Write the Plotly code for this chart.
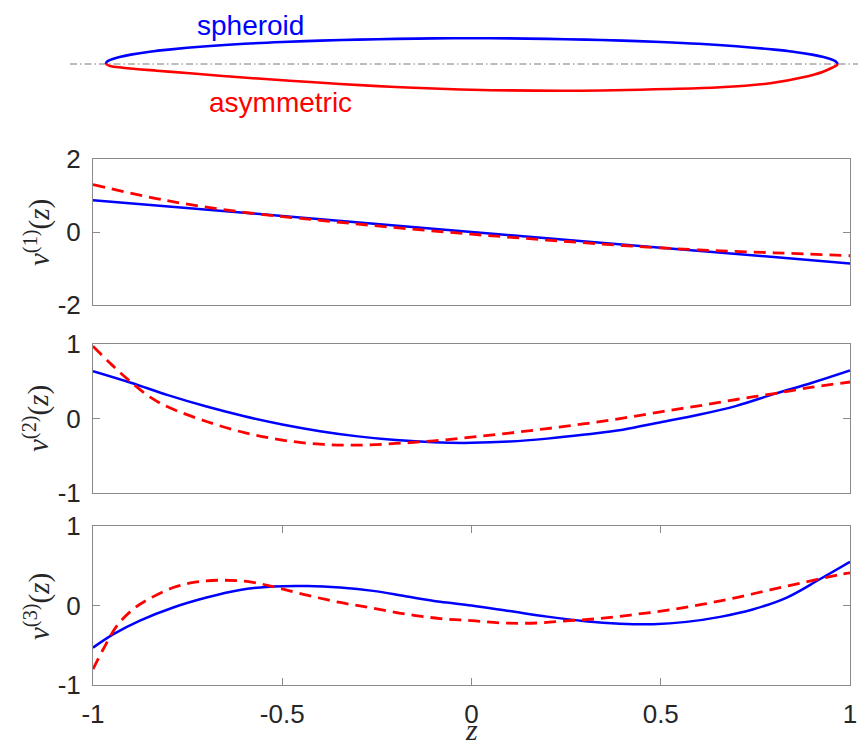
import plotly.graph_objects as go

# ---------------- data ----------------
# top panel: body outlines (half thickness, in pixel-like units)
spheroid_z = [-0.966, -0.964, -0.96, -0.95, -0.93, -0.9, -0.85, -0.8, -0.7, -0.6, -0.5, -0.4, -0.3, -0.2, -0.1,
              0.0, 0.1, 0.2, 0.3, 0.4, 0.5, 0.6, 0.7, 0.8, 0.85, 0.9, 0.93, 0.95, 0.96, 0.964, 0.968]
spheroid_r = [0.0, 1.9, 3.1, 4.8, 7.0, 9.4, 12.3, 14.4, 17.7, 20.2, 22.0, 23.4, 24.4, 25.1, 25.6,
              25.7, 25.6, 25.1, 24.4, 23.4, 22.0, 20.2, 17.7, 14.4, 12.3, 9.4, 7.0, 4.8, 3.1, 1.9, 0.0]
asym_z = [-0.966, -0.955, -0.921, -0.831, -0.744, -0.612, -0.48, -0.347, -0.215, -0.083, 0.0,
          0.26, 0.524, 0.657, 0.789, 0.876, 0.929, 0.955, 0.964, 0.968]
asym_r = [0.0, 2.0, 3.7, 6.7, 9.3, 13.3, 16.7, 20.0, 22.7, 24.7, 25.7,
          26.7, 25.0, 23.3, 19.3, 13.3, 7.7, 3.3, 1.5, 0.0]

# v1
v1_spheroid_z = [-1.0, -0.5, 0.0, 0.5, 1.0]
v1_spheroid = [0.87, 0.44, 0.0, -0.43, -0.86]
v1_asym_z = [-1.0, -0.8, -0.6, -0.4, -0.2, 0.0, 0.2, 0.4, 0.6, 0.8, 1.0]
v1_asym = [1.30, 0.85, 0.54, 0.32, 0.12, -0.06, -0.22, -0.37, -0.49, -0.57, -0.65]

# v2
v2_spheroid_z = [-1.0, -0.9, -0.8, -0.7, -0.6, -0.5, -0.4, -0.3, -0.2, -0.1, 0.0,
                 0.1, 0.2, 0.3, 0.4, 0.5, 0.6, 0.7, 0.8, 0.9, 1.0]
v2_spheroid = [0.635, 0.48, 0.31, 0.16, 0.03, -0.08, -0.17, -0.24, -0.29, -0.32, -0.327,
               -0.31, -0.27, -0.215, -0.15, -0.05, 0.05, 0.17, 0.33, 0.48, 0.645]
v2_asym_z = [-1.0, -0.95, -0.9, -0.85, -0.8, -0.7, -0.6, -0.5, -0.4, -0.3, -0.2, -0.1, 0.0,
             0.1, 0.2, 0.3, 0.4, 0.5, 0.6, 0.7, 0.8, 0.9, 1.0]
v2_asym = [0.97, 0.72, 0.49, 0.29, 0.15, -0.04, -0.19, -0.29, -0.345, -0.358, -0.335, -0.30, -0.25,
           -0.195, -0.135, -0.07, 0.005, 0.09, 0.17, 0.255, 0.335, 0.42, 0.49]

# v3
v3_spheroid_z = [-1.0, -0.946, -0.876, -0.788, -0.70, -0.612, -0.524, -0.435, -0.347, -0.26, -0.171, -0.083, 0.0,
                 0.1, 0.2, 0.3, 0.392, 0.48, 0.568, 0.657, 0.745, 0.833, 0.92, 1.0]
v3_spheroid = [-0.53, -0.36, -0.19, -0.025, 0.10, 0.196, 0.239, 0.245, 0.226, 0.184, 0.113, 0.046, 0.0,
               -0.07, -0.14, -0.197, -0.228, -0.235, -0.206, -0.143, -0.047, 0.10, 0.33, 0.55]
v3_asym_z = [-1.0, -0.973, -0.937, -0.894, -0.85, -0.788, -0.726, -0.656, -0.585, -0.515, -0.435, -0.347,
             -0.26, -0.171, -0.083, 0.0, 0.084, 0.172, 0.26, 0.348, 0.436, 0.524, 0.612, 0.70, 0.789,
             0.877, 0.974, 1.0]
v3_asym = [-0.80, -0.55, -0.256, -0.047, 0.088, 0.226, 0.297, 0.318, 0.297, 0.226, 0.13, 0.038,
           -0.034, -0.11, -0.164, -0.19, -0.22, -0.22, -0.19, -0.16, -0.11, -0.055, 0.016, 0.10, 0.197,
           0.29, 0.39, 0.41]

x_ticks = [-1, -0.5, 0, 0.5, 1]
x_ticktext = ["-1", "-0.5", "0", "0.5", "1"]
y1_ticks = [-2, 0, 2]
y1_ticktext = ["-2", "0", "2"]
y23_ticks = [-1, 0, 1]
y23_ticktext = ["-1", "0", "1"]

BLUE = "#0000FF"
RED = "#FF0000"
AX = "#8a8a8a"
TXT = "#262626"
SANS = "Liberation Sans, Arial, Helvetica, sans-serif"
SERIF = "Liberation Serif, Times New Roman, serif"

# The page body adds an 8px offset; size the figure so the page is 866x756.
OFF = 8
FW, FH = 866 - 2 * OFF, 756 - 2 * OFF
ML, MT = 93 - OFF, 0
PW = 757
MR = FW - ML - PW
PH = 685 - OFF          # plot area bottom at page y=685
MB = FH - MT - PH

def py(ref_y):          # page y -> paper y
    return (PH - (ref_y - OFF)) / PH

def px(ref_x):          # page x -> paper x
    return (ref_x - OFF - ML) / PW

def dom(top_px, bot_px):
    return [py(bot_px), py(top_px)]

fig = go.Figure()

# top panel
fig.add_trace(go.Scatter(x=spheroid_z, y=spheroid_r, mode="lines", line=dict(color=BLUE, width=2.6, shape="spline"),
                         xaxis="x4", yaxis="y4", showlegend=False, hoverinfo="skip"))
fig.add_trace(go.Scatter(x=asym_z, y=[-r for r in asym_r], mode="lines", line=dict(color=RED, width=2.6, shape="spline"),
                         xaxis="x4", yaxis="y4", showlegend=False, hoverinfo="skip"))

panels = [("x", "y", v1_spheroid_z, v1_spheroid, v1_asym_z, v1_asym),
          ("x2", "y2", v2_spheroid_z, v2_spheroid, v2_asym_z, v2_asym),
          ("x3", "y3", v3_spheroid_z, v3_spheroid, v3_asym_z, v3_asym)]
for xa, ya, zs, vs, za, va in panels:
    fig.add_trace(go.Scatter(x=zs, y=vs, mode="lines", line=dict(color=BLUE, width=2.5, shape="spline"),
                             xaxis=xa, yaxis=ya, showlegend=False))
    fig.add_trace(go.Scatter(x=za, y=va, mode="lines",
                             line=dict(color=RED, width=2.8, dash="12px,7px", shape="spline"),
                             xaxis=xa, yaxis=ya, showlegend=False))

common_x = dict(range=[-1, 1], showline=True, linecolor=AX, linewidth=1, mirror=True,
                showgrid=False, zeroline=False, automargin=False)
common_y = dict(showline=True, linecolor=AX, linewidth=1, mirror="ticks", showgrid=False, zeroline=False,
                ticks="inside", ticklen=7, tickcolor=AX, tickfont=dict(family=SANS, size=26, color=TXT),
                ticklabelstandoff=6, automargin=False)

# centerline at page y=64; top panel spans page y 8..130
top_pan_top, top_pan_bot, center_y = 8, 130, 64
fig.update_layout(
    template="none",
    width=FW, height=FH,
    margin=dict(l=ML, r=MR, t=MT, b=MB, pad=0),
    paper_bgcolor="white", plot_bgcolor="white",
    xaxis=dict(**common_x, domain=[0, 1], anchor="y", showticklabels=False, ticks=""),
    yaxis=dict(**common_y, domain=dom(159, 305), anchor="x", range=[-2, 2],
               tickvals=y1_ticks, ticktext=y1_ticktext),
    xaxis2=dict(**common_x, domain=[0, 1], anchor="y2", showticklabels=False, ticks=""),
    yaxis2=dict(**common_y, domain=dom(344, 493), anchor="x2", range=[-1, 1],
                tickvals=y23_ticks, ticktext=y23_ticktext),
    xaxis3=dict(range=[-1, 1], showline=True, linecolor=AX, linewidth=1, mirror="ticks", showgrid=False,
                zeroline=False, domain=[0, 1], anchor="y3", ticks="inside", ticklen=7, tickcolor=AX,
                tickvals=x_ticks, ticktext=x_ticktext, tickfont=dict(family=SANS, size=26, color=TXT),
                ticklabelstandoff=6, automargin=False),
    yaxis3=dict(**common_y, domain=dom(526, 685), anchor="x3", range=[-1, 1],
                tickvals=y23_ticks, ticktext=y23_ticktext),
    xaxis4=dict(range=[-1, 1], domain=[0, 1], anchor="y4", visible=False, automargin=False),
    yaxis4=dict(range=[-(top_pan_bot - center_y), center_y - top_pan_top], domain=dom(top_pan_top, top_pan_bot),
                anchor="x4", visible=False, automargin=False),
)

# dash-dot axis of symmetry
fig.add_shape(type="line", xref="paper", yref="y4", x0=px(70), x1=px(866), y0=0, y1=0,
              line=dict(color="#7a7a7a", width=1, dash="7px,3px,1.5px,3px"), layer="below")

fig.add_annotation(x=-0.583, y=center_y - 25, xref="x4", yref="y4", text="spheroid", showarrow=False,
                   xanchor="center", yanchor="middle", font=dict(family=SANS, size=28, color=BLUE))
fig.add_annotation(x=-0.504, y=center_y - 102, xref="x4", yref="y4", text="asymmetric", showarrow=False,
                   xanchor="center", yanchor="middle", font=dict(family=SANS, size=28, color=RED))

# y labels
labels = [("1", 232), ("2", 418), ("3", 606)]
for k, cy in labels:
    fig.add_annotation(x=px(37), y=py(cy), xref="paper", yref="paper",
                       text="<i>v</i><sup>(%s)</sup>(<i>z</i>)" % k, showarrow=False, textangle=-90,
                       xanchor="center", yanchor="middle",
                       font=dict(family=SERIF, size=29, color=TXT))
# x label: box bottom sits on the figure's bottom edge
fig.add_annotation(x=0.5, y=py(748), xref="paper", yref="paper", text="<i>z</i>",
                   showarrow=False, xanchor="center", yanchor="bottom",
                   font=dict(family=SERIF, size=30, color=TXT))

fig.write_html("out.html")
